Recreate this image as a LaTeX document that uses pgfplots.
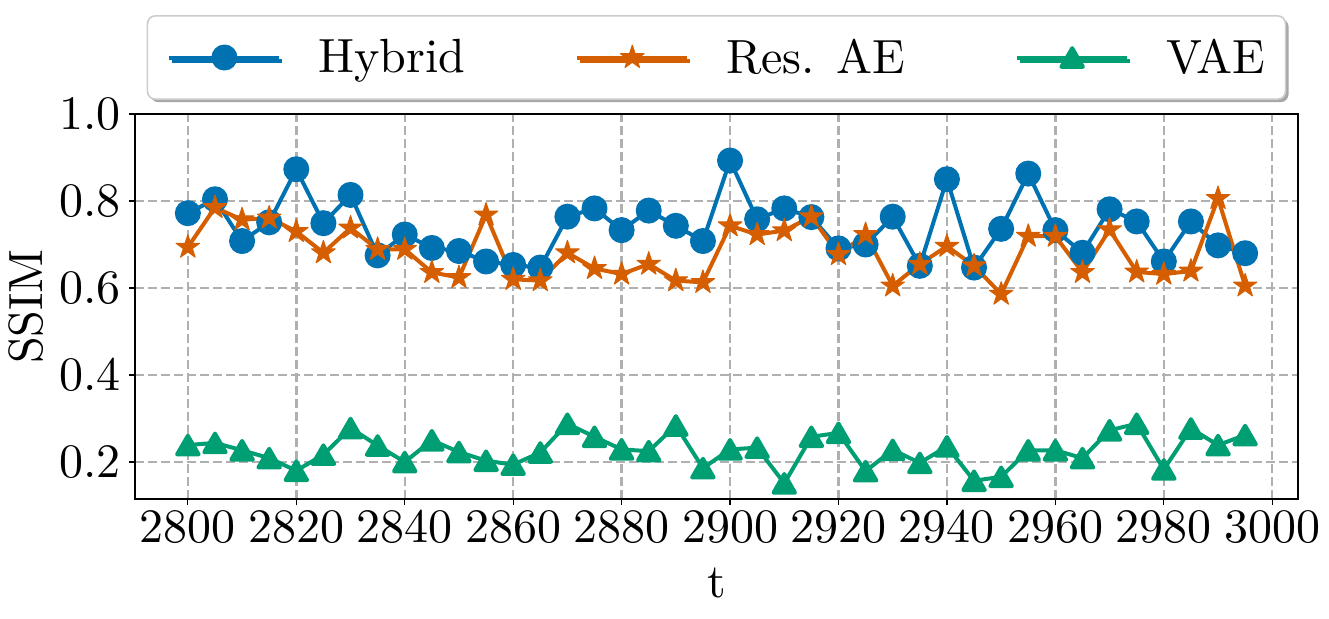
\documentclass[border=0pt]{standalone}
\usepackage{fontspec}
\setmainfont{lmroman10-regular}[Extension=.otf]
\usepackage{pgfplots}
\pgfplotsset{compat=1.18}
\usetikzlibrary{shadows}
\definecolor{cblue}{HTML}{0072B2}
\definecolor{corange}{HTML}{D55E00}
\definecolor{cgreen}{HTML}{009E73}
\definecolor{gridgray}{HTML}{B0B0B0}
\definecolor{legframe}{HTML}{CCCCCC}
\newcommand\bigf{\fontsize{24}{29}\selectfont}

\pgfdeclareplotmark{fstar}{%
  \pgfpathmoveto{\pgfpointpolar{90}{\pgfplotmarksize}}%
  \pgfpathlineto{\pgfpointpolar{126}{0.382\pgfplotmarksize}}%
  \pgfpathlineto{\pgfpointpolar{162}{\pgfplotmarksize}}%
  \pgfpathlineto{\pgfpointpolar{198}{0.382\pgfplotmarksize}}%
  \pgfpathlineto{\pgfpointpolar{234}{\pgfplotmarksize}}%
  \pgfpathlineto{\pgfpointpolar{270}{0.382\pgfplotmarksize}}%
  \pgfpathlineto{\pgfpointpolar{306}{\pgfplotmarksize}}%
  \pgfpathlineto{\pgfpointpolar{342}{0.382\pgfplotmarksize}}%
  \pgfpathlineto{\pgfpointpolar{18}{\pgfplotmarksize}}%
  \pgfpathlineto{\pgfpointpolar{54}{0.382\pgfplotmarksize}}%
  \pgfpathclose
  \pgfusepathqfillstroke}

\pgfplotstableread{
t hybrid res vae
2800 0.772 0.694 0.239
2805 0.804 0.785 0.244
2810 0.708 0.757 0.227
2815 0.751 0.761 0.209
2820 0.873 0.730 0.180
2825 0.749 0.681 0.217
2830 0.814 0.738 0.278
2835 0.675 0.689 0.238
2840 0.723 0.689 0.200
2845 0.692 0.636 0.250
2850 0.685 0.624 0.223
2855 0.661 0.768 0.203
2860 0.653 0.620 0.194
2865 0.647 0.617 0.222
2870 0.764 0.681 0.288
2875 0.783 0.645 0.258
2880 0.733 0.632 0.229
2885 0.778 0.655 0.225
2890 0.743 0.617 0.284
2895 0.708 0.613 0.186
2900 0.893 0.743 0.229
2905 0.758 0.723 0.233
2910 0.783 0.732 0.151
2915 0.763 0.764 0.258
2920 0.691 0.677 0.267
2925 0.700 0.723 0.179
2930 0.764 0.605 0.228
2935 0.651 0.655 0.198
2940 0.850 0.696 0.236
2945 0.647 0.651 0.157
2950 0.736 0.586 0.166
2955 0.863 0.719 0.227
2960 0.733 0.719 0.227
2965 0.681 0.636 0.209
2970 0.781 0.734 0.273
2975 0.753 0.637 0.288
2980 0.661 0.632 0.183
2985 0.753 0.639 0.277
2990 0.698 0.806 0.239
2995 0.680 0.605 0.262
}\datatable

\begin{document}
\begin{tikzpicture}
\begin{axis}[
  at={(0,0)}, anchor=south west,
  scale only axis, width=581.5pt, height=192.5pt,
  xmin=2790.25, xmax=3004.75, ymin=0.115, ymax=1.0,
  xtick={2800,2820,2840,2860,2880,2900,2920,2940,2960,2980,3000},
  ytick={0.2,0.4,0.6,0.8,1.0},
  /pgf/number format/1000 sep={},
  /pgf/number format/assume math mode=true,
  yticklabel style={/pgf/number format/.cd, fixed, fixed zerofill, precision=1, assume math mode=true},
  tick align=outside, tick pos=left, major tick length=3pt,
  grid=major,
  major grid style={gridgray, line width=1.2pt, dash pattern=on 4.5pt off 2pt},
  axis line style={line width=0.6pt},
  tick style={black, line width=0.6pt},
  tick label style={font=\bigf, inner sep=0pt},
  xticklabel shift=2.5pt, yticklabel shift=4pt,
  xlabel={t}, ylabel={SSIM},
  xlabel style={font=\bigf, at={(axis description cs:0.5,0)}, anchor=base, yshift=-49pt},
  ylabel style={font=\bigf, at={(axis description cs:0,0.5)}, anchor=center, yshift=54.25pt},
  every axis plot/.append style={line width=2pt, line join=round},
  legend columns=3,
  legend style={at={(0.5,1)}, anchor=south, yshift=7pt, font=\bigf,
    draw=legframe, line width=0.8pt, rounded corners=4pt, fill=white,
    drop shadow={shadow xshift=1.5pt, shadow yshift=-1.5pt, fill=gray!70, opacity=1},
    nodes={inner sep=0pt},
    inner xsep=10pt, inner ysep=11.5pt,
    /tikz/every odd column/.append style={column sep=18.5pt},
    /tikz/every even column/.append style={column sep=55pt}},
  legend cell align=left,
  legend image code/.code={\draw[mark repeat=2,mark phase=2] plot coordinates {(0pt,0pt) (27.5pt,0pt) (55pt,0pt)};},
]
\addplot[cblue, mark=*, mark size=5.5pt, mark options={solid}] table[x=t, y=hybrid] {\datatable};
\addlegendentry{Hybrid}
\addplot[corange, mark=fstar, mark size=6.2pt, mark options={solid, line width=0.5pt}] table[x=t, y=res] {\datatable};
\addlegendentry{Res. AE}
\addplot[cgreen, mark=triangle*, mark size=6.2pt, mark options={solid, yshift=-1.55pt}] table[x=t, y=vae] {\datatable};
\addlegendentry{VAE}
\end{axis}
\pgfresetboundingbox
\useasboundingbox (-67.5pt,-59.5pt) rectangle (597pt,249.5pt);
\end{tikzpicture}
\end{document}
